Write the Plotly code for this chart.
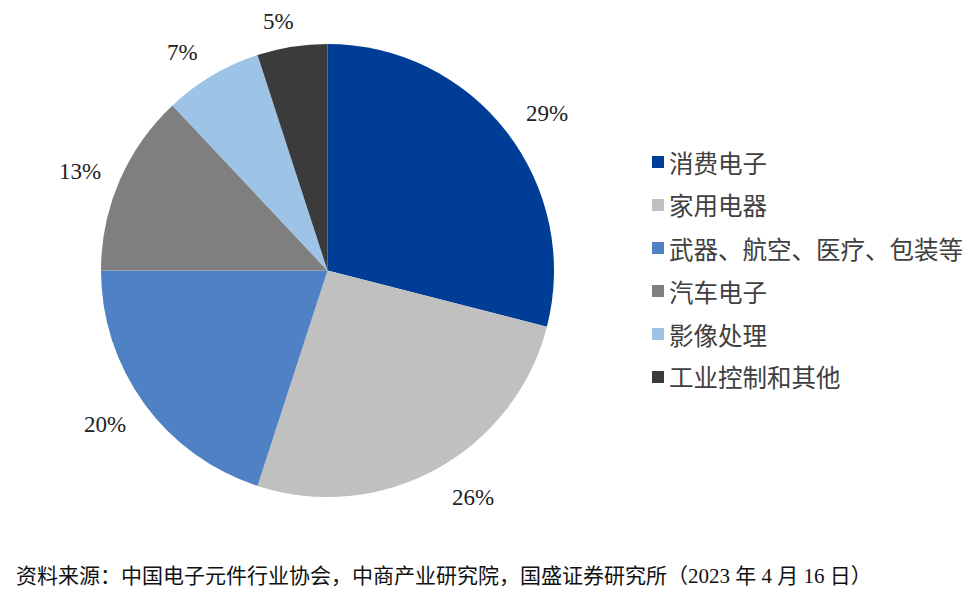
import plotly.graph_objects as go

categories = ['消费电子', '家用电器', '武器、航空、医疗、包装等', '汽车电子', '影像处理', '工业控制和其他']
shares = [29, 26, 20, 13, 7, 5]
colors = ['#003d96', '#c0c0c0', '#4f81c4', '#7f7f7f', '#9dc3e6', '#3b3b3b']
source = '资料来源:中国电子元件行业协会,中商产业研究院,国盛证券研究所(2023 年 4 月 16 日)'.translate(
    str.maketrans({':': '\uff1a', ',': '\uff0c', '(': '\uff08', ')': '\uff09'}))

font_serif = 'Liberation Serif, Noto Sans CJK SC'
W, H = 975, 593


def px(x, y):
    # page pixels to paper coordinates
    return x / W, 1 - y / H


fig = go.Figure()

fig.add_trace(go.Pie(labels=categories, values=shares, sort=False, direction='clockwise', rotation=0,
                     marker=dict(colors=colors), textinfo='none', hoverinfo='label+percent', showlegend=False,
                     domain=dict(x=[101 / W, 554 / W], y=[1 - 497 / H, 1 - 44 / H])))

# Percent labels sit outside the slices
label_pos = [(547, 114), (473, 497), (105, 424), (80, 171), (182, 52), (278, 21)]
annotations = []
for (x, y), v in zip(label_pos, shares):
    ax, ay = px(x, y)
    annotations.append(dict(x=ax, y=ay, xref='paper', yref='paper', text=f'{v}%', showarrow=False,
                            xanchor='center', yanchor='middle',
                            font=dict(family=font_serif, size=23, color='#222222')))

# Legend is built by hand, plotly's own cannot do this marker gap and row spacing
shapes = []
for i, (name, color) in enumerate(zip(categories, colors)):
    row_y = 162 + i * 43
    ax, ay = px(667, row_y)
    annotations.append(dict(x=ax, y=ay, xref='paper', yref='paper', text=name, showarrow=False, xanchor='left',
                            yanchor='middle', font=dict(family='Noto Sans CJK SC', size=24.5, color='#404040')))
    x0, y0 = px(652, row_y + 6)
    x1, y1 = px(664, row_y - 6)
    shapes.append(dict(type='rect', xref='paper', yref='paper', x0=x0, y0=y0, x1=x1, y1=y1, fillcolor=color,
                       line=dict(width=0)))

ax, ay = px(14, 576)
annotations.append(dict(x=ax, y=ay, xref='paper', yref='paper', text=source, showarrow=False, xanchor='left',
                        yanchor='middle', font=dict(family=font_serif, size=21, color='#111111')))

fig.update_layout(width=W, height=H, margin=dict(l=0, r=0, t=0, b=0), plot_bgcolor='white', paper_bgcolor='white',
                  annotations=annotations, shapes=shapes, showlegend=False)

fig.write_html("out.html", config=dict(displayModeBar=False), post_script="document.body.style.margin = '0';")
